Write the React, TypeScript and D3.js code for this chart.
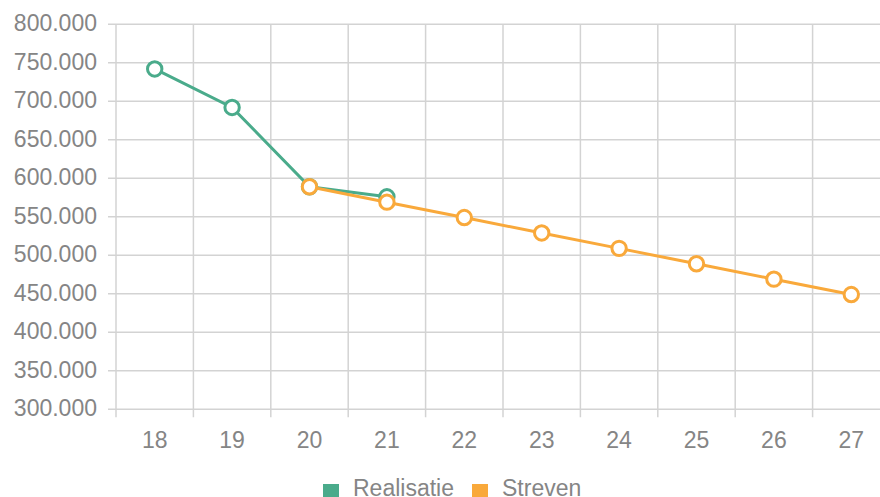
import { useEffect, useRef } from "react";
import * as d3 from "d3";

const years = ["18", "19", "20", "21", "22", "23", "24", "25", "26", "27"];
const realisatie: (number | null)[] = [742000, 692000, 589000, 576000, null, null, null, null, null, null];
const streven: (number | null)[] = [null, null, 589000, 569000, 549000, 529000, 509000, 489000, 469000, 449000];
const yTicks = [300000, 350000, 400000, 450000, 500000, 550000, 600000, 650000, 700000, 750000, 800000];

const series = [
  { name: "Realisatie", color: "#4aab8b", values: realisatie },
  { name: "Streven", color: "#f9a93b", values: streven },
];

export default function App() {
  const svgRef = useRef<SVGSVGElement>(null);

  useEffect(() => {
    const width = 880;
    const height = 497;
    const margin = { top: 24.3, right: -10, bottom: 87.7, left: 116 };
    const svg = d3.select(svgRef.current);
    svg.selectAll("*").remove();

    const x = d3
      .scaleBand()
      .domain(years)
      .range([margin.left, width - margin.right]);
    const y = d3
      .scaleLinear()
      .domain([300000, 800000])
      .range([height - margin.bottom, margin.top]);

    const fmt = (v: number) => d3.format(",")(v).replace(/,/g, ".");
    const font = "'Liberation Sans', Arial, sans-serif";
    const grid = "#d3d3d3";
    const textColor = "#858585";
    const fontSize = 23;

    // horizontal grid
    svg
      .append("g")
      .selectAll("line")
      .data(yTicks)
      .join("line")
      .attr("x1", margin.left - 8)
      .attr("x2", width - margin.right)
      .attr("y1", (d) => y(d))
      .attr("y2", (d) => y(d))
      .attr("stroke", grid)
      .attr("stroke-width", 1.5);

    // vertical grid at band edges
    const edges = years.map((c) => x(c)!);
    svg
      .append("g")
      .selectAll("line")
      .data(edges)
      .join("line")
      .attr("x1", (d) => d)
      .attr("x2", (d) => d)
      .attr("y1", margin.top)
      .attr("y2", height - margin.bottom + 8)
      .attr("stroke", grid)
      .attr("stroke-width", 1.5);

    svg
      .append("g")
      .selectAll("text")
      .data(yTicks)
      .join("text")
      .attr("x", 97)
      .attr("y", (d) => y(d) + 6.7)
      .attr("text-anchor", "end")
      .attr("font-family", font)
      .attr("font-size", fontSize)
      .attr("fill", textColor)
      .text((d) => fmt(d));

    svg
      .append("g")
      .selectAll("text")
      .data(years)
      .join("text")
      .attr("x", (d) => x(d)! + x.bandwidth() / 2)
      .attr("y", 447.5)
      .attr("text-anchor", "middle")
      .attr("font-family", font)
      .attr("font-size", fontSize)
      .attr("fill", textColor)
      .text((d) => d);

    const line = d3
      .line<number | null>()
      .defined((d) => d != null)
      .x((_, i) => x(years[i])! + x.bandwidth() / 2)
      .y((d) => y(d!));

    series.forEach((s) => {
      const g = svg.append("g");
      g.append("path")
        .datum(s.values)
        .attr("fill", "none")
        .attr("stroke", s.color)
        .attr("stroke-width", 3)
        .attr("d", line);
      g.selectAll("circle")
        .data(s.values.map((v, i) => ({ v, i })).filter((d) => d.v != null))
        .join("circle")
        .attr("cx", (d) => x(years[d.i])! + x.bandwidth() / 2)
        .attr("cy", (d) => y(d.v!))
        .attr("r", 7.2)
        .attr("fill", "#fff")
        .attr("stroke", s.color)
        .attr("stroke-width", 3);
    });

    // legend
    const legendX = [323, 472];
    const lg = svg.append("g");
    series.forEach((s, i) => {
      lg.append("rect")
        .attr("x", legendX[i])
        .attr("y", 484)
        .attr("width", 16)
        .attr("height", 16)
        .attr("fill", s.color);
      lg.append("text")
        .attr("x", legendX[i] + 30)
        .attr("y", 495.5)
        .attr("font-family", font)
        .attr("font-size", fontSize)
        .attr("fill", textColor)
        .text(s.name);
    });
  }, []);

  return (
    <svg
      ref={svgRef}
      width={880}
      height={497}
      style={{ position: "absolute", left: 0, top: 0, display: "block", background: "#fff" }}
    />
  );
}
